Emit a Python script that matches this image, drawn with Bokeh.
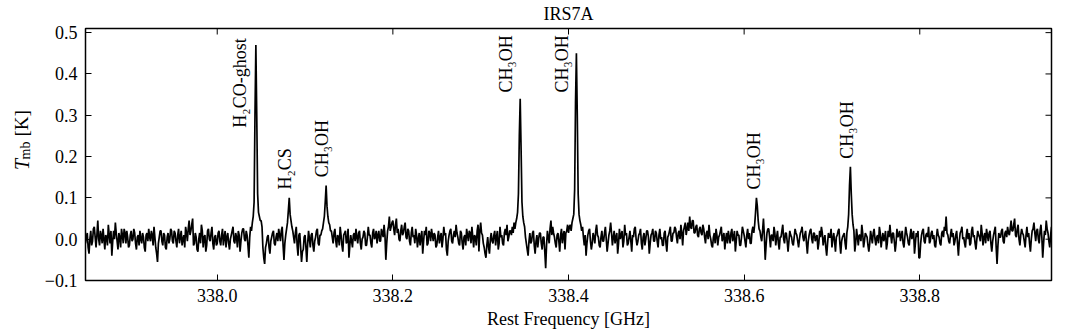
import numpy as np
from math import pi
from bokeh.plotting import figure
from bokeh.layouts import row
from bokeh.models import ColumnDataSource, Range1d, FixedTicker, CustomJSTickFormatter
from bokeh.core.properties import value
from bokeh.embed import file_html
from bokeh.resources import INLINE

# ---------------- data ----------------
title_text = "IRS7A"
x_label = "Rest Frequency [GHz]"
freq_start = 337.85      # GHz, first channel
chan_width = 0.001       # GHz per channel

# main-beam temperature in mK, estimated channel by channel, 0.05 GHz per block
tmb_337_85 = [-10, 5, 15, -20, -35, 0, 20, -15, -5, 25, 30, 5, -20, 10, 45, 0, -15, 20, 10, -10, 25, 0, -25, 10, 5,
              -15, 35, 10, -10, 20, -40, -5, 20, 0, 40, 15, -5, -25, 15, 5, -20, 25, 10, -10, 25, 15, -10, 20, 5, -20]
tmb_337_90 = [-15, 10, 20, -5, 0, 25, 15, -10, -25, 5, 10, -15, 20, 0, -10, 15, 5, -20, -30, 10, 15, -5, 25, 5, -5,
              20, 10, -15, 30, 5, -20, -35, -55, -10, 5, 20, 20, -5, -15, 15, 10, -20, -25, 5, 15, -10, 0, 25, 20, -5]
tmb_337_95 = [-10, 20, 15, -5, -20, 10, 25, -10, 5, 20, -15, 0, 10, -20, 30, 15, -5, 25, 45, 10, 20, 35, 50, -15, -10,
              15, 5, -25, -30, 0, 15, -10, 35, 20, -20, 5, 10, -30, -15, 20, 25, 0, -5, 15, 30, -10, -25, 5, 10, -15]
tmb_338_00 = [-10, 15, 20, -5, -15, 10, 25, -15, 5, 20, -20, 5, 15, -10, -25, 0, 10, 20, 30, -5, -10, 15, 5, -20, 20,
              10, -30, -5, 15, 25, 25, 0, -5, 20, 10, -15, -45, 5, 30, 20, 40, 55, 90, 300, 470, 300, 110, 65, 55, 45]
tmb_338_05 = [45, 30, -20, -45, -60, -20, -10, 5, 10, -20, -35, -5, 5, 15, 20, -10, -15, 5, 15, -5, 25, 10, -5, 20, 30,
              -15, -50, -10, 10, 25, 40, 70, 100, 60, 45, 30, 20, 5, -10, 15, 30, -15, -40, 10, 15, -20, -55, -30, -25, 5]
tmb_338_10 = [10, -20, -55, -10, 20, 0, -20, 10, 15, -15, -30, -5, 5, 20, 25, -10, -15, 10, 10, 20, 25, 40, 55, 90, 130,
              80, 55, 40, 35, 20, 20, 5, -10, 15, 25, -5, -20, 10, 5, -15, 30, 10, -15, -30, 10, 15, 20, -10, -5, 25]
tmb_338_15 = [-45, -15, 10, -5, -20, 10, 15, -5, 25, 5, -10, 15, 20, -10, -25, 0, 5, 20, 15, -15, -15, 5, 30, 10, 10,
              -10, -20, 15, 25, 0, 5, 20, -10, 10, 20, -5, -5, 25, 15, 5, 35, 10, -50, -10, 20, 30, 55, 20, 30, 40]
tmb_338_20 = [45, 25, 10, 35, 50, 15, 25, 0, -5, 20, 35, 10, 15, 30, 40, 5, 0, 25, 20, -5, -15, 15, 30, 5, 10,
              -10, 25, 10, -20, 0, 15, -15, 5, 20, -35, -5, 20, 10, 30, -15, -10, 20, 15, -5, 25, 10, -5, 15, 10, -20]
tmb_338_25 = [-15, 5, 20, -10, 5, 15, -20, 0, 30, 10, 15, -25, -40, -5, 10, 20, 25, -5, -10, 10, 20, 5, 35, 15, 5,
              -10, -15, 20, 15, -10, -25, 5, 10, -15, 25, 10, -5, 20, 15, -10, 30, 5, -20, 10, 5, -15, 20, 35, -30, 20]
tmb_338_30 = [40, 15, 10, -10, -20, -35, -45, -15, 5, -20, -35, 0, 15, -5, -10, 10, 20, -15, 5, 20, -25, -10, 30, 5, 10,
              -10, -15, 15, 25, 10, 35, -5, 5, 20, 20, 10, 30, 15, 40, 25, 40, 50, 65, 110, 250, 340, 220, 90, 55, 40]
tmb_338_35 = [30, 5, -10, -25, -40, -5, 15, -10, -5, 15, 20, -15, -35, -5, 10, -20, 0, 15, 15, -10, -25, 5, 5, -30, -70,
              -15, 20, 5, -10, 25, 45, 10, 30, 15, 5, -10, -20, 10, 15, -5, -30, 10, 25, -10, 10, 20, -25, 15, 20, 35]
tmb_338_40 = [15, 30, 35, 20, 40, 50, 60, 120, 330, 450, 300, 110, 60, 45, 35, 20, 30, 5, -15, 10,
              -40, -10, 10, 20, 25, -5, -25, -10, 15, 5, -10, 20, 35, 10, 5, -15, -20, 5, 20, -5, -5, 15, 30, 0, -30,
              -10, 10, 20, 40, 15]
tmb_338_45 = [-15, 5, 20, -10, 5, 15, -35, -10, 25, 0, 10, 20, -20, -5, 35, 10, 15, -15, -10, 5, 20, -5, -30, 10, 5,
              25, 30, 0, -15, -5, 10, 15, 25, -10, -25, 5, 15, -15, 0, 20, 20, 5, -35, -10, 10, 15, 25, -5, -5, 20]
tmb_338_50 = [15, -5, -20, 10, 25, 0, 5, -15, -15, 15, 20, -10, -30, 5, 10, 20, 30, -5, -5, 15, 15, 30, 25, 5, -10,
              15, 20, 0, 35, 15, -15, 20, 30, 40, 10, 25, 40, 20, 55, 30, 25, 45, 45, 15, 15, 30, 35, 10, 5, 25]
tmb_338_55 = [30, 15, 10, 35, 25, 5, -10, 15, 20, 0, 35, 10, 0, -15, -20, 5, 15, -10, 25, 10, -15, 5, 10, 20, 30, -5,
              5, 15, -25, 0, 15, -10, 20, 5, -10, 15, 25, -5, 5, 20, -30, -5, 20, 10, 10, -15, -15, 5, 30, 20]
tmb_338_60 = [10, -5, -20, 10, 25, 0, 15, -10, -10, 20, 30, 15, 35, 65, 100, 80, 45, 25, 20, 5,
              -5, 20, 50, 10, -50, -15, 15, 25, 25, 5, -20, 10, 10, -5, 30, 15, -15, 5, 20, -10, -25, 5, 5, 20, 35, 0,
              -10, 15, 15, -5]
tmb_338_65 = [-30, -5, 20, 10, 5, -10, -15, 5, 25, 15, 10, -5, -20, 0, 15, 20, 30, 5, -5, 10, 20, -10, -35, -5, 10,
              20, 25, 0, -10, 15, 15, -5, 5, 10, -25, -10, 20, 5, 30, 15, -15, 0, 10, -20, -40, -10, 15, 5, 5, 25]
tmb_338_70 = [-20, 0, 15, -5, -30, 5, 10, 20, 25, -10, -35, -5, 5, 10, 15, -10, -25, 15, 30, 60, 130, 175, 110, 60, 35,
              20, -30, -10, 25, 5, -15, 10, 10, -5, 35, 15, -20, -5, 15, 10, 5, -15, -30, -10, 20, 5, -10, 15, 25, 0]
tmb_338_75 = [-15, 5, 10, -10, 30, 15, -20, 0, 15, -5, 5, 20, -25, -10, 20, 5, 35, 10, -10, 15, 15, -5, -30, -10, 25,
              5, 10, 20, -5, 10, 20, -10, -20, 5, 30, 15, 5, -10, -15, 10, 25, 0, 10, 20, -35, -10, 15, 5, 20, -45]
tmb_338_80 = [-45, -10, 10, 20, 25, -5, -10, 10, 15, 5, 30, -10, -5, 15, 20, 0, 10, -15, -20, 5, 25, 10, 5, -10, -15,
              15, 20, 5, 30, 20, 55, 15, 10, -5, -10, 10, 25, 5, 15, -15, -5, 10, 20, -10, -40, -5, 15, 20, 30, 0]
tmb_338_85 = [5, -10, -20, 10, 25, 0, 15, -15, -10, 20, 30, 5, 10, -10, -25, 0, 20, 10, 5, -5, 35, 15, -15, 5, 15,
              -10, 25, 10, -5, 15, 20, -10, -30, -5, 10, 20, 30, -20, -60, -15, 15, 5, 5, 20, 25, -5, -10, 15, 20, 5]
tmb_338_90 = [30, 15, 10, 25, 45, 20, 20, 35, 50, 10, 5, 25, 35, 0, -15, 10, 25, 15, 10, -5, -20, 10, 30, 5, 15, -10,
              -30, 0, 20, 25, 40, 15, -5, 20, 25, 0, -10, 20, 35, 5, -45, -10, 20, 10, 45, 25, 15, -5, -20, 10, 30]

line_names = ["H\u2082CO-ghost", "H\u2082CS", "CH\u2083OH", "CH\u2083OH",
              "CH\u2083OH", "CH\u2083OH", "CH\u2083OH"]
line_label_freq = [338.0265, 338.0774, 338.1196, 338.3286, 338.3925, 338.6112, 338.7173]
line_label_tmb = [0.27, 0.12, 0.15, 0.355, 0.355, 0.12, 0.195]

x_ticks = [338.0, 338.2, 338.4, 338.6, 338.8]
y_ticks = [-0.1, 0.0, 0.1, 0.2, 0.3, 0.4, 0.5]
x_lim = (337.85, 338.95)
y_lim = (-0.1, 0.51)

# ---------------- figure ----------------
FONT = "Liberation Serif"
tmb_mK = (tmb_337_85 + tmb_337_90 + tmb_337_95 + tmb_338_00 + tmb_338_05 + tmb_338_10 +
          tmb_338_15 + tmb_338_20 + tmb_338_25 + tmb_338_30 + tmb_338_35 + tmb_338_40 +
          tmb_338_45 + tmb_338_50 + tmb_338_55 + tmb_338_60 + tmb_338_65 + tmb_338_70 +
          tmb_338_75 + tmb_338_80 + tmb_338_85 + tmb_338_90)
freq = freq_start + chan_width * np.arange(len(tmb_mK))
tmb = np.array(tmb_mK) / 1000.0

YLAB_W = 40
p = figure(width=1072 - YLAB_W, height=331, output_backend="svg", toolbar_location=None,
           x_range=Range1d(*x_lim), y_range=Range1d(*y_lim),
           min_border_left=85 - YLAB_W, min_border_right=21, min_border_top=26,
           min_border_bottom=51)
p.title.text = title_text
p.title.align = "center"
p.title.vertical_align = "top"
p.title.text_font = FONT
p.title.text_font_size = "18px"
p.title.text_font_style = "normal"
p.title.text_color = "black"
p.title.standoff = 6
p.background_fill_color = "white"
p.border_fill_color = "white"
p.xgrid.visible = False
p.ygrid.visible = False
p.outline_line_color = "black"
p.outline_line_width = 1.5

p.xaxis.ticker = FixedTicker(ticks=x_ticks)
p.yaxis.ticker = FixedTicker(ticks=y_ticks)
p.xaxis.formatter = CustomJSTickFormatter(code="return tick.toFixed(1);")
p.yaxis.formatter = CustomJSTickFormatter(code="return tick.toFixed(1).replace('-', '\\u2212');")
for ax in (p.xaxis[0], p.yaxis[0]):
    ax.axis_line_color = None
    ax.major_tick_in = 6
    ax.major_tick_out = 0
    ax.major_tick_line_color = "black"
    ax.major_tick_line_width = 1
    ax.minor_tick_line_color = None
    ax.major_label_text_font = FONT
    ax.major_label_text_font_size = "18px"
    ax.major_label_text_color = "black"
    ax.major_label_standoff = 8
p.xaxis.axis_label = x_label
p.xaxis.axis_label_text_font = FONT
p.xaxis.axis_label_text_font_size = "18px"
p.xaxis.axis_label_text_font_style = "normal"
p.xaxis.axis_label_text_color = "black"
p.xaxis.axis_label_standoff = 4

# inward ticks on the top and right edges (markers centred on the edge, clipped by the frame)
p.scatter(x=x_ticks, y=[y_lim[1]] * len(x_ticks), marker="dash", angle=pi / 2, size=12,
          line_color="black", line_width=1)
p.scatter(x=[x_lim[1]] * len(y_ticks), y=y_ticks, marker="dash", size=12,
          line_color="black", line_width=1)

p.line(freq, tmb, line_color="black", line_width=1.7)

lbl_src = ColumnDataSource(dict(x=line_label_freq, y=line_label_tmb, t=line_names))
p.text(x="x", y="y", text="t", source=lbl_src, angle=pi / 2,
       text_align="left", text_baseline="middle",
       text_font=value(FONT), text_font_size="18px", text_color="black")

# y-axis label "T_mb [K]" drawn in a narrow strip left of the plot (pixel coordinates)
q = figure(width=YLAB_W, height=331, output_backend="svg", toolbar_location=None,
           x_range=Range1d(0, YLAB_W), y_range=Range1d(0, 331),
           min_border=0, min_border_left=0, min_border_right=0,
           min_border_top=0, min_border_bottom=0)
q.axis.visible = False
q.xgrid.visible = False
q.ygrid.visible = False
q.outline_line_color = None
q.background_fill_color = "white"
q.border_fill_color = "white"
q.text(x=[21], y=[145], text=["T"], angle=pi / 2, text_align="left", text_baseline="middle",
       text_font=value(FONT), text_font_style="italic", text_font_size="20px", text_color="black")
q.text(x=[25], y=[159], text=["mb"], angle=pi / 2, text_align="left", text_baseline="middle",
       text_font=value(FONT), text_font_size="14px", text_color="black")
q.text(x=[21], y=[189], text=["[K]"], angle=pi / 2, text_align="left", text_baseline="middle",
       text_font=value(FONT), text_font_size="19px", text_color="black")

layout = row(q, p, spacing=0)
open("out.html", "w").write(file_html(layout, INLINE))
